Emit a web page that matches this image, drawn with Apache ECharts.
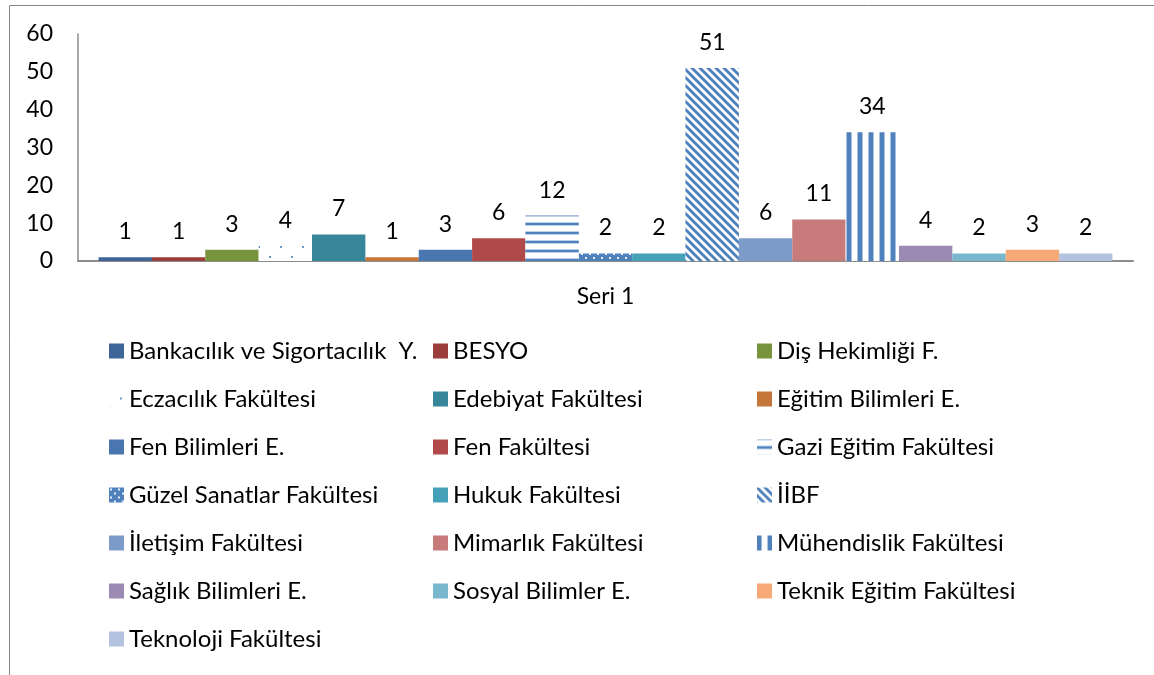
<!DOCTYPE html>
<html>
<head>
<meta charset="utf-8">
<script src="https://cdn.jsdelivr.net/npm/echarts@6/dist/echarts.min.js"></script>
<style>
html,body{margin:0;padding:0;background:#fff;}
#chart{width:1154px;height:675px;}
</style>
</head>
<body>
<div id="chart"></div>
<script>
const categories = ['Seri 1'];
const seriesNames = [
  'Bankacılık ve Sigortacılık  Y.', 'BESYO', 'Diş Hekimliği F.',
  'Eczacılık Fakültesi', 'Edebiyat Fakültesi', 'Eğitim Bilimleri E.',
  'Fen Bilimleri E.', 'Fen Fakültesi', 'Gazi Eğitim Fakültesi',
  'Güzel Sanatlar Fakültesi', 'Hukuk Fakültesi', 'İİBF',
  'İletişim Fakültesi', 'Mimarlık Fakültesi', 'Mühendislik Fakültesi',
  'Sağlık Bilimleri E.', 'Sosyal Bilimler E.', 'Teknik Eğitim Fakültesi',
  'Teknoloji Fakültesi'
];
const seriesValues = [1, 1, 3, 4, 7, 1, 3, 6, 12, 2, 2, 51, 6, 11, 34, 4, 2, 3, 2];
const yTicks = [0, 10, 20, 30, 40, 50, 60];

function tile(w, h, draw) {
  const c = document.createElement('canvas');
  c.width = w; c.height = h;
  const ctx = c.getContext('2d');
  draw(ctx, w, h);
  return { image: c, repeat: 'repeat' };
}
const BLUE = '#4F81BD';
const pEczacilik = tile(22, 20, (ctx, w, h) => {
  ctx.fillStyle = '#fff'; ctx.fillRect(0, 0, w, h);
  ctx.fillStyle = '#6F96CC';
  ctx.fillRect(16, 6, 2, 2); ctx.fillRect(5, 16, 2, 2);
});
const pEczacilikIcon = tile(22, 20, (ctx, w, h) => {
  ctx.fillStyle = '#fff'; ctx.fillRect(0, 0, w, h);
  ctx.fillStyle = '#6F96CC';
  ctx.fillRect(0, 15, 2, 2); ctx.fillRect(11, 6, 2, 2);
});
const pGazi = tile(8, 9, (ctx, w, h) => {
  ctx.fillStyle = '#fff'; ctx.fillRect(0, 0, w, h);
  ctx.fillStyle = '#BCD0E8'; ctx.fillRect(0, 6, w, 1); ctx.fillRect(0, 0, w, 1);
  ctx.fillStyle = BLUE; ctx.fillRect(0, 7, w, 2);
});
const pGuzel = tile(8, 8, (ctx, w, h) => {
  ctx.fillStyle = BLUE; ctx.fillRect(0, 0, w, h);
  ctx.fillStyle = '#E6EEF7';
  ctx.fillRect(1, 1, 2, 2); ctx.fillRect(5, 5, 2, 2);
});
const pIIBF = tile(8, 8, (ctx, w, h) => {
  ctx.fillStyle = '#fff'; ctx.fillRect(0, 0, w, h);
  ctx.strokeStyle = BLUE; ctx.lineWidth = 3;
  for (let k = -8; k <= 8; k += 8) {
    ctx.beginPath(); ctx.moveTo(k - 1, -1); ctx.lineTo(k + 9, 9); ctx.stroke();
  }
});
const pMuh = tile(11, 4, (ctx, w, h) => {
  ctx.fillStyle = '#fff'; ctx.fillRect(0, 0, w, h);
  ctx.fillStyle = BLUE; ctx.fillRect(0, 0, 4, h);
  ctx.fillStyle = '#A9C1DF'; ctx.fillRect(4, 0, 1, h); ctx.fillRect(10, 0, 1, h);
});

const seriesColors = [
  '#3D6598', '#9A3D3B', '#77933C',
  pEczacilik, '#378699', '#C4763B',
  '#4A76B0', '#B04A48', pGazi,
  pGuzel, '#45A1B7', pIIBF,
  '#7D9BC8', '#C77B7A', pMuh,
  '#9C89B4', '#79B7CC', '#F7A977',
  '#B3C3DF'
];

const FONT = 'Lato';
const chart = echarts.init(document.getElementById('chart'), null, { renderer: 'canvas' });

const series = seriesNames.map((name, i) => ({
  name: name,
  type: 'bar',
  data: [seriesValues[i]],
  barGap: '0%',
  barCategoryGap: '3.9%',
  itemStyle: { color: seriesColors[i] },
  label: {
    show: true, position: 'top', distance: 14,
    color: '#000', fontSize: 23, fontFamily: FONT
  },
  emphasis: { disabled: true }
}));

function legendCol(idxs, left) {
  return {
    orient: 'vertical', left: left, top: 339, padding: 0,
    itemWidth: 15, itemHeight: 15, itemGap: 24,
    selectedMode: false,
    data: idxs.map(i => {
      const d = { name: seriesNames[i], icon: 'rect' };
      if (i === 3) d.itemStyle = { color: pEczacilikIcon };
      return d;
    }),
    textStyle: { color: '#000', fontSize: 24, fontFamily: FONT, lineHeight: 24 }
  };
}

const option = {
  animation: false,
  backgroundColor: '#fff',
  graphic: [{
    type: 'rect', shape: { x: 9.5, y: 5.5, width: 1300, height: 800 },
    style: { fill: 'none', stroke: '#868686', lineWidth: 1 }, silent: true
  }],
  grid: { left: 78, right: 21, top: 34, bottom: 414, containLabel: false },
  legend: [
    legendCol([0, 3, 6, 9, 12, 15, 18], 109),
    legendCol([1, 4, 7, 10, 13, 16], 433),
    legendCol([2, 5, 8, 11, 14, 17], 757)
  ],
  xAxis: {
    type: 'category', data: categories,
    axisLine: { lineStyle: { color: '#8C8C8C', width: 2 } },
    axisTick: { show: false },
    axisLabel: { color: '#000', fontSize: 23, fontFamily: FONT, margin: 24 }
  },
  yAxis: {
    type: 'value', min: yTicks[0], max: yTicks[yTicks.length - 1], interval: 10,
    axisLine: { show: true, lineStyle: { color: '#8C8C8C', width: 1.5 } },
    axisTick: { show: false },
    splitLine: { show: false },
    axisLabel: { color: '#000', fontSize: 23, fontFamily: FONT, margin: 25 }
  },
  series: series
};
chart.setOption(option);
</script>
</body>
</html>
